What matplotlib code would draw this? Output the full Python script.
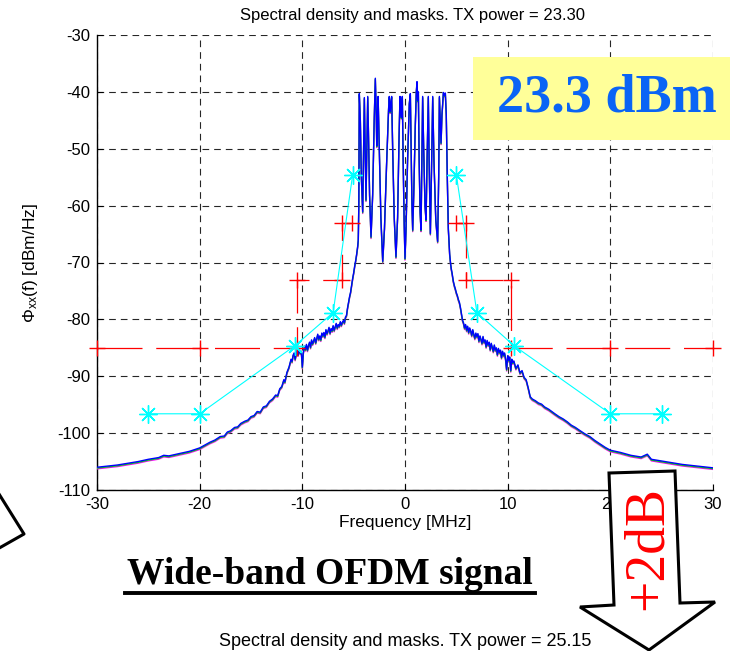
import matplotlib
matplotlib.use('Agg')
import numpy as np
import matplotlib.pyplot as plt
from matplotlib import transforms
from matplotlib.patches import Polygon, Rectangle
from matplotlib.lines import Line2D

# spectrum (MHz, dBm/Hz) - left skirt, in-band, right skirt
freq_left = [-30.0, -28.0, -26.0, -25.0, -24.0, -23.5, -23.0, -22.0, -21.0, -20.0,
             -19.5, -19.0, -18.5, -18.0, -17.6, -17.3, -17.0, -16.6, -16.3, -16.0,
             -15.6, -15.3, -15.0, -14.7, -14.4, -14.1, -13.8, -13.5, -13.2, -12.9,
             -12.6, -12.4, -12.2, -12.0, -11.8, -11.7, -11.5, -11.3, -11.1, -11.0,
             -10.9, -10.8, -10.7, -10.6, -10.5, -10.4, -10.3, -10.2, -10.1, -10.0,
             -9.9, -9.8, -9.7, -9.6, -9.5, -9.4, -9.3, -9.2, -9.1, -9.0,
             -8.9, -8.8, -8.7, -8.6, -8.5, -8.4, -8.3, -8.2, -8.1, -8.0,
             -7.9, -7.8, -7.7, -7.6, -7.5, -7.4, -7.3, -7.2, -7.1, -7.0,
             -6.9, -6.8, -6.7, -6.6, -6.5, -6.4, -6.3, -6.2, -6.1, -6.0,
             -5.9, -5.8, -5.7, -5.6, -5.5, -5.4, -5.3, -5.2, -5.1, -5.0,
             -4.9, -4.8, -4.7, -4.6, -4.55, -4.5, -4.47]
psd_left = [-106.0, -105.6, -105.0, -104.6, -104.3, -103.9, -104.0, -103.6, -103.2, -102.6,
            -102.1, -101.6, -101.2, -100.6, -100.5, -99.8, -99.6, -99.0, -98.9, -98.3,
            -97.9, -97.7, -97.1, -96.9, -96.2, -96.3, -95.4, -95.2, -94.4, -94.0,
            -93.3, -93.4, -92.2, -91.8, -90.6, -91.0, -89.3, -88.4, -87.0, -87.4,
            -86.3, -85.9, -87.0, -86.1, -85.4, -86.2, -85.2, -85.9, -85.6, -88.4,
            -85.8, -84.7, -85.3, -84.4, -85.4, -84.6, -84.0, -84.9, -83.6, -84.3,
            -83.8, -83.2, -84.1, -83.4, -82.6, -83.5, -82.9, -83.6, -82.4, -82.9,
            -82.3, -83.1, -81.8, -82.5, -82.0, -81.4, -82.4, -81.6, -82.0, -81.1,
            -81.9, -81.3, -80.7, -81.5, -80.9, -81.2, -80.4, -81.0, -80.5, -80.2,
            -80.6, -79.6, -79.3, -78.0, -77.0, -76.0, -75.2, -74.0, -72.8, -71.8,
            -70.6, -69.6, -68.4, -67.0, -66.0, -60.0, -50.0]

freq_band = [-4.45, -4.35, -4.25, -4.12, -4.05, -3.96, -3.88, -3.80, -3.72, -3.63,
             -3.55, -3.45, -3.31, -3.15, -3.00, -2.89, -2.80, -2.75, -2.68, -2.62,
             -2.50, -2.35, -2.17, -2.00, -1.80, -1.60, -1.53, -1.45, -1.38, -1.30,
             -1.20, -1.05, -0.88, -0.72, -0.58, -0.49, -0.42, -0.35, -0.30, -0.26,
             -0.18, -0.08, 0.00, 0.10, 0.25, 0.42, 0.52, 0.60, 0.68, 0.75,
             0.85, 1.00, 1.10, 1.17, 1.24, 1.30, 1.38, 1.47, 1.56, 1.64,
             1.72, 1.82, 1.95, 2.05, 2.15, 2.27, 2.35, 2.47, 2.58, 2.70,
             2.82, 3.00, 3.18, 3.28, 3.35, 3.43, 3.51, 3.60, 3.74, 3.85,
             3.93, 4.02, 4.12, 4.22, 4.35, 4.45]
psd_band = [-40.3, -45.0, -55.0, -61.1, -52.0, -41.0, -50.0, -59.0, -50.0, -40.8,
            -48.0, -58.0, -65.5, -58.0, -45.0, -37.6, -44.0, -49.5, -44.0, -40.8,
            -50.0, -62.0, -69.8, -64.0, -53.0, -43.0, -40.8, -43.5, -42.0, -40.8,
            -50.0, -62.0, -69.0, -62.0, -48.0, -40.8, -43.0, -44.5, -42.0, -40.8,
            -52.0, -63.0, -69.3, -64.0, -52.0, -42.0, -40.3, -50.0, -60.0, -64.3,
            -58.0, -46.0, -40.0, -38.2, -41.5, -40.0, -52.0, -61.0, -64.3, -52.0,
            -40.8, -50.0, -60.0, -62.5, -52.0, -40.8, -52.0, -64.9, -54.0, -40.8,
            -52.0, -62.5, -66.3, -55.0, -40.8, -45.0, -49.0, -44.0, -40.1, -40.6,
            -40.2, -44.0, -55.0, -64.0, -68.5, -70.3]

freq_right = [4.5, 4.6, 4.7, 4.8, 4.9, 5.0, 5.1, 5.2, 5.3, 5.4,
              5.5, 5.6, 5.7, 5.8, 5.9, 6.0, 6.1, 6.2, 6.3, 6.4,
              6.5, 6.6, 6.7, 6.8, 6.9, 7.0, 7.1, 7.2, 7.3, 7.4,
              7.5, 7.6, 7.7, 7.8, 7.9, 8.0, 8.1, 8.2, 8.3, 8.4,
              8.5, 8.6, 8.7, 8.8, 8.9, 9.0, 9.1, 9.2, 9.3, 9.4,
              9.5, 9.6, 9.7, 9.8, 9.9, 10.0, 10.1, 10.2, 10.3, 10.4,
              10.5, 10.6, 10.8, 11.0, 11.2, 11.4, 11.6, 11.8, 12.0, 12.2,
              12.4, 12.7, 13.0, 13.3, 13.6, 14.0, 14.3, 14.6, 15.0, 15.4,
              15.8, 16.2, 16.6, 17.0, 17.5, 18.0, 18.5, 19.0, 19.5, 20.0,
              21.0, 22.0, 22.7, 23.0, 23.6, 24.0, 25.0, 26.0, 27.0, 28.0,
              29.0, 30.0]
psd_right = [-71.0, -72.0, -73.2, -74.0, -74.6, -75.3, -75.8, -76.5, -77.0, -77.9,
             -79.0, -80.1, -80.6, -81.5, -80.9, -81.9, -81.2, -82.3, -81.5, -82.0,
             -82.8, -81.8, -82.6, -83.3, -82.4, -83.0, -82.5, -83.8, -82.9, -83.5,
             -84.2, -83.0, -84.0, -83.6, -84.8, -83.7, -84.5, -84.0, -85.3, -84.2,
             -84.9, -85.6, -84.5, -85.4, -85.0, -86.2, -85.1, -85.8, -85.4, -86.7,
             -85.6, -86.3, -85.9, -87.0, -88.8, -86.4, -87.2, -86.6, -89.0, -87.0,
             -87.6, -87.3, -88.6, -88.0, -89.4, -89.0, -90.2, -90.6, -92.0, -93.6,
             -94.0, -94.3, -94.7, -94.9, -95.4, -95.8, -96.2, -96.6, -97.1, -97.5,
             -98.0, -98.6, -99.0, -99.5, -100.1, -100.6, -101.3, -101.9, -102.5, -103.0,
             -103.4, -103.9, -104.1, -104.2, -103.7, -104.6, -104.9, -105.2, -105.5, -105.7,
             -105.9, -106.1]

# spectral masks
red_f = [-30, -20, -10.5, -10.5, -6.1, -6.1, -5.2, np.nan, 5.0, 5.9, 5.9, 10.3, 10.3, 20, 30]
red_db = [-85, -85, -85, -73, -73, -63, -63, np.nan, -63, -63, -73, -73, -85, -85, -85]
cyan_f = [-25, -20, -10.7, -7.0, -5.1, np.nan, 5.0, 7.0, 10.6, 20, 25]
cyan_db = [-96.6, -96.6, -84.6, -78.8, -54.6, np.nan, -54.6, -78.8, -84.6, -96.6, -96.6]

xticks = [-30, -20, -10, 0, 10, 20, 30]
yticks = [-110, -100, -90, -80, -70, -60, -50, -40, -30]

W, H = 740, 651
plt.rcParams['font.family'] = ['Liberation Sans', 'DejaVu Sans']
plt.rcParams['mathtext.default'] = 'regular'
plt.rcParams['axes.unicode_minus'] = False

fig = plt.figure(figsize=(W / 100, H / 100), dpi=100)
fig.patch.set_facecolor('white')
ax = fig.add_axes([97 / W, 1 - 490 / H, 616 / W, 455 / H])

freq = freq_left + freq_band + freq_right
psd = psd_left + psd_band + psd_right

# three nearly identical traces, drawn a pixel apart
for col, dy in [('#ff00ff', -1.6), ('#00dd00', -0.8), ('#0000ff', 0.0)]:
    tr = transforms.offset_copy(ax.transData, fig=fig, x=0, y=dy, units='dots')
    ax.plot(freq, psd, color=col, lw=1.0, transform=tr, zorder=3)

ax.plot(red_f, red_db, color='red', lw=0.9, dashes=(36, 11), marker='+',
        ms=12, mew=1.0, clip_on=False, zorder=4)
ax.plot(cyan_f, cyan_db, color='cyan', lw=0.8, marker=(8, 2, 0),
        ms=13, mew=1.0, zorder=4)

ax.set_xlim(-30, 30)
ax.set_ylim(-110, -30)
ax.set_xticks(xticks)
ax.set_yticks(yticks)
ax.grid(True, color='0.15', linestyle=(0, (6, 4.5)), linewidth=0.8)
ax.set_axisbelow(True)
for s in ['top', 'right']:
    ax.spines[s].set_visible(False)
for s in ['left', 'bottom']:
    ax.spines[s].set_linewidth(1.0)
ax.tick_params(direction='in', length=4, width=0.8, labelsize=12, pad=5)

ax.set_xlabel('Frequency [MHz]', fontsize=12.5)
ax.xaxis.set_label_coords(0.5, -0.055)
ax.set_ylabel(r'$\Phi_{xx}$(f) [dBm/Hz]', fontsize=12.5)
ax.yaxis.set_label_coords(-0.093, 0.5)

fig.text(412 / W, 1 - 20 / H, 'Spectral density and masks. TX power = 23.30',
         ha='center', va='baseline', fontsize=12)

# yellow label box
fig.patches.append(Rectangle((473 / W, 1 - 140 / H), 257 / W, 83 / H,
                             transform=fig.transFigure, facecolor='#ffff99',
                             edgecolor='none', zorder=5))
fig.text(607 / W, 1 - 99 / H, '23.3 dBm', ha='center', va='center',
         fontsize=39, fontweight='bold', family='Liberation Serif',
         color='#0a64f5', zorder=6)

# caption
fig.text(330 / W, 1 - 584 / H, 'Wide-band OFDM signal', ha='center', va='baseline',
         fontsize=27, fontweight='bold', family='Liberation Serif', zorder=6)
fig.add_artist(Line2D([125 / W, 535 / W], [1 - 593 / H, 1 - 593 / H],
                      transform=fig.transFigure, color='black', lw=2.8))

# title of the next plot, at the bottom edge
fig.text(405 / W, 1 - 650 / H, 'Spectral density and masks. TX power = 25.15',
         ha='center', va='bottom', fontsize=13)

# big arrow
arrow = [(609, 473), (675, 471), (680, 603), (715, 602), (649, 650),
         (580, 607), (614, 605)]
fig.patches.append(Polygon([(x / W, 1 - y / H) for x, y in arrow], closed=True,
                           transform=fig.transFigure, facecolor='white',
                           edgecolor='black', lw=2.2, zorder=7))
fig.text(648 / W, 1 - 548 / H, '+2dB', rotation=90, ha='center', va='center',
         fontsize=40, family='Liberation Serif', color='red', zorder=8)

# corner of another arrow at the left edge
fig.add_artist(Line2D([-6 / W, 24 / W, -6 / W],
                      [1 - 486 / H, 1 - 534 / H, 1 - 551 / H],
                      transform=fig.transFigure, color='black', lw=2.2))

fig.savefig('out.png', dpi=100)
